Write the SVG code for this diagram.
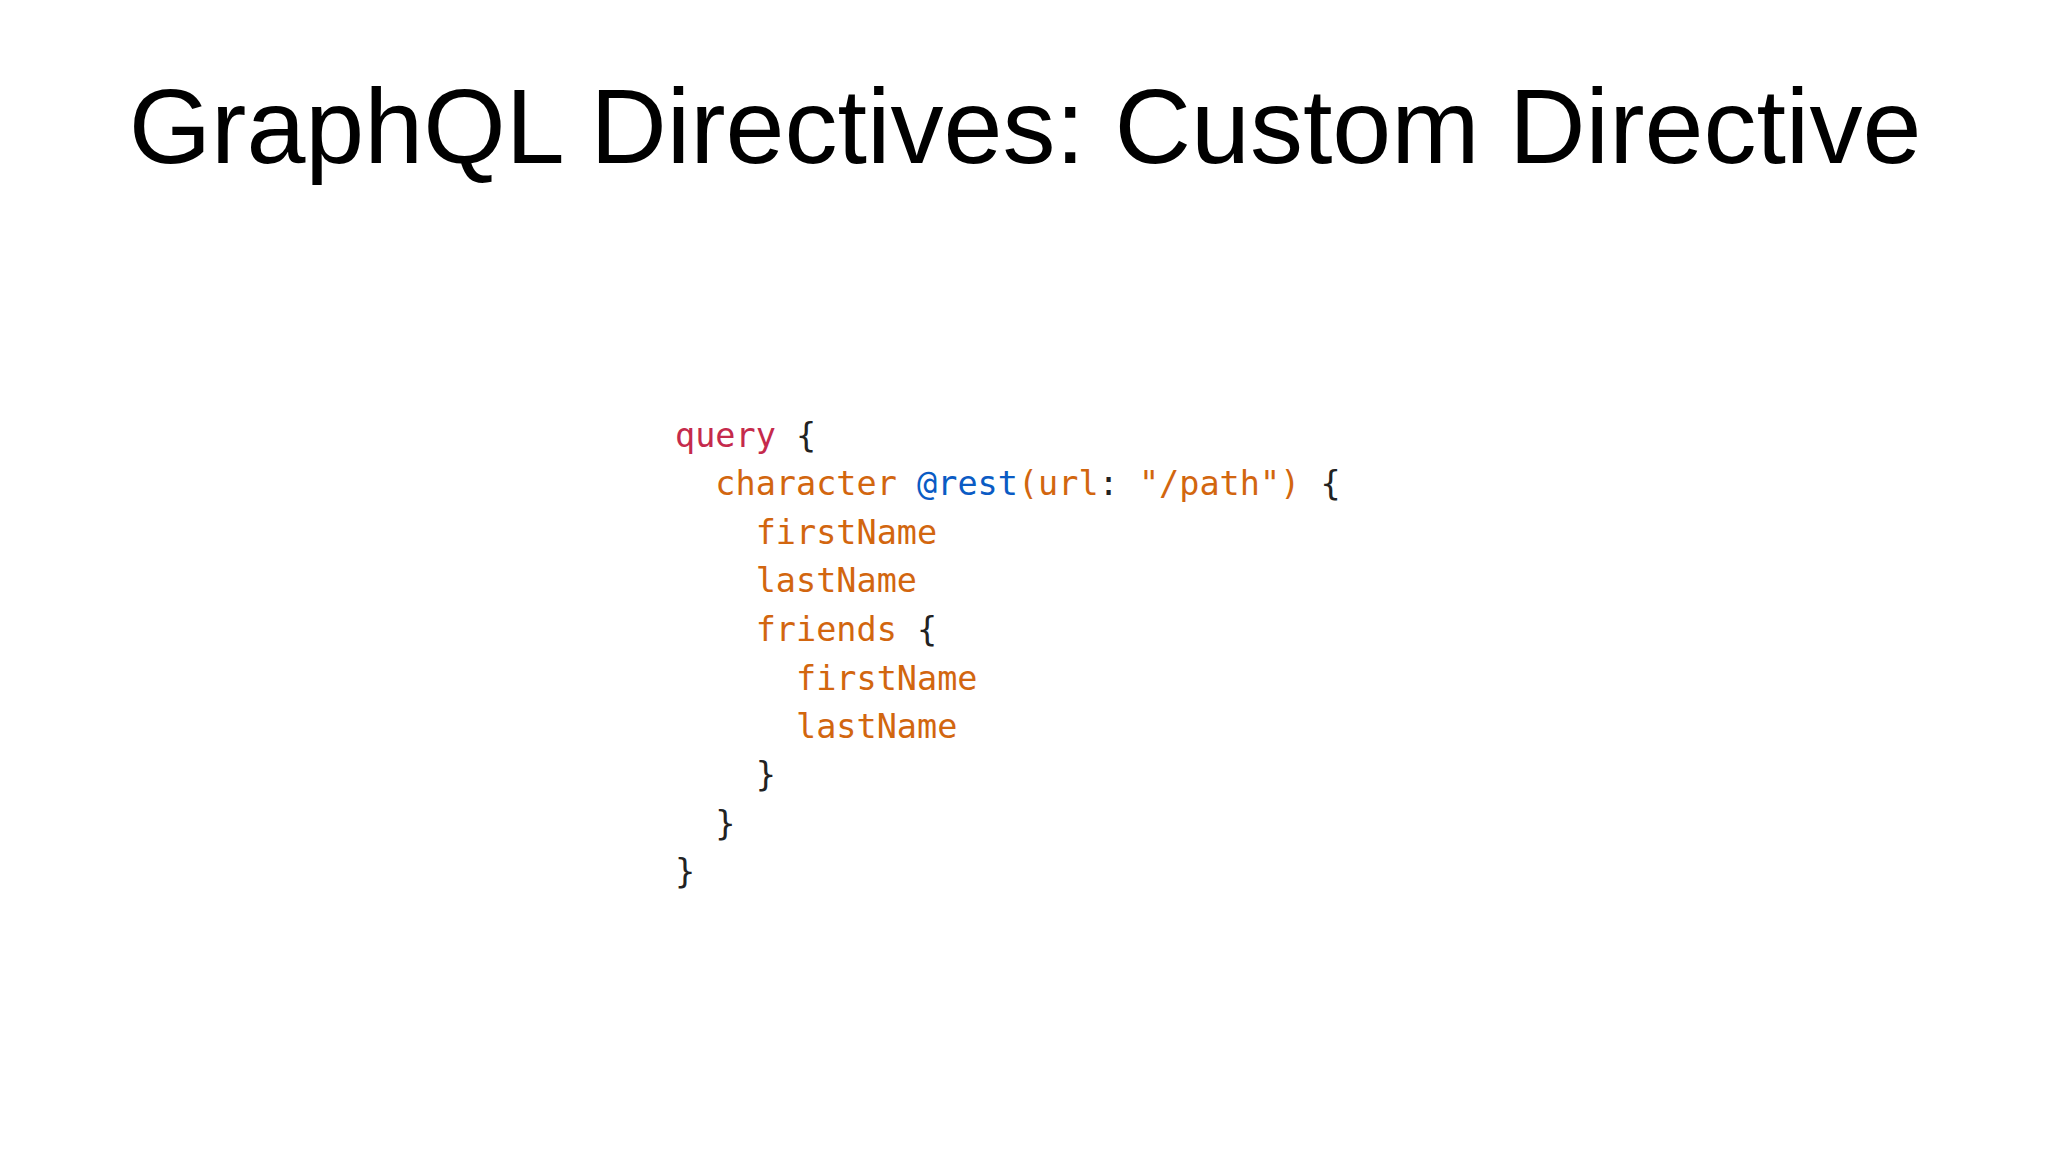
<svg xmlns="http://www.w3.org/2000/svg" width="2048" height="1152" viewBox="0 0 2048 1152">
<style>
.t{font-family:"Liberation Sans",Arial,sans-serif;font-size:106px;fill:#000}
.c{font-family:"DejaVu Sans Mono","Liberation Mono",monospace;font-size:33.5px;fill:#222;white-space:pre}
.k{fill:#c52a4c}.o{fill:#d2660f}.b{fill:#0a5bc4}
</style>
<rect width="2048" height="1152" fill="#fff"/>
<g id="title"><text class="t" x="1025" y="163" text-anchor="middle">GraphQL Directives: Custom Directive</text></g>
<g id="code">
<text class="c" x="675" y="447"><tspan class="k">query</tspan> {</text>
<text class="c" x="675" y="495">  <tspan class="o">character</tspan> <tspan class="b">@rest</tspan><tspan class="o">(url</tspan>: <tspan class="o">"/path")</tspan> {</text>
<text class="c" x="675" y="544">    <tspan class="o">firstName</tspan></text>
<text class="c" x="675" y="592">    <tspan class="o">lastName</tspan></text>
<text class="c" x="675" y="641">    <tspan class="o">friends</tspan> {</text>
<text class="c" x="675" y="690">      <tspan class="o">firstName</tspan></text>
<text class="c" x="675" y="738">      <tspan class="o">lastName</tspan></text>
<text class="c" x="675" y="786">    }</text>
<text class="c" x="675" y="835">  }</text>
<text class="c" x="675" y="883">}</text>
</g>
</svg>
